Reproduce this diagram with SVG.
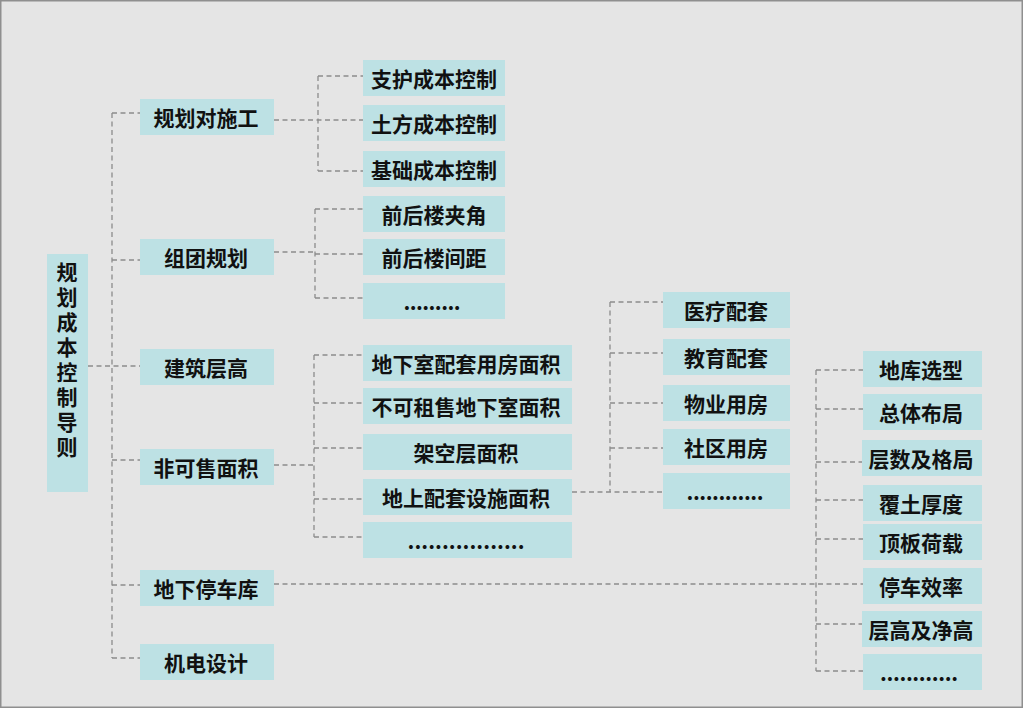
<svg xmlns="http://www.w3.org/2000/svg" width="1024" height="709" viewBox="0 0 1024 709">
<style>
.n{fill:#bde1e4}
.t{font-family:"Noto Sans CJK SC","Noto Sans",sans-serif;font-weight:bold;font-size:21px;fill:#111;text-anchor:middle;dominant-baseline:central}
.v{writing-mode:vertical-rl;letter-spacing:4px}
.c path{fill:none;stroke:#8c8c8c;stroke-width:1.3;stroke-dasharray:5 3.5}
</style>
<rect x="0" y="0" width="1024" height="709" fill="#ffffff"/>
<rect x="0.75" y="0.75" width="1021.5" height="706.5" fill="#e5e5e5" stroke="#8f8f8f" stroke-width="1.5"/>
<g class="c" id="connectors">
<path d="M112,113 V658"/>
<path d="M88,366 H140"/>
<path d="M112,113 H140 M112,260 H140 M112,460 H140 M112,585 H140 M112,658 H140"/>
<path d="M274,120 H363 M318,76 V171 M318,76 H363 M318,171 H363"/>
<path d="M274,252 H315 M315,209 V298 M315,209 H363 M315,254 H363 M315,298 H363"/>
<path d="M274,465 H314 M314,355 V537 M314,355 H363 M314,403 H363 M314,448 H363 M314,499 H363 M314,537 H363"/>
<path d="M572,492 H663 M610,302 V492 M610,302 H663 M610,353 H663 M610,403 H663 M610,448 H663"/>
<path d="M274,584 H863 M816,370 V671 M816,370 H863 M816,409 H863 M816,462 H863 M816,500 H863 M816,539 H863 M816,624 H863 M816,671 H863"/>
</g>
<g id="root"><rect class="n" x="47" y="254" width="41" height="238"/>
<text class="t v" x="67" y="362">规划成本控制导则</text></g>
<g id="n-gh"><rect class="n" x="140" y="99" width="134" height="36"/><text class="t" x="206" y="117">规划对施工</text></g>
<g id="n-zt"><rect class="n" x="140" y="239" width="134" height="36"/><text class="t" x="206" y="257">组团规划</text></g>
<g id="n-jz"><rect class="n" x="140" y="349" width="134" height="36"/><text class="t" x="206" y="367">建筑层高</text></g>
<g id="n-fk"><rect class="n" x="140" y="449" width="134" height="36"/><text class="t" x="206" y="467">非可售面积</text></g>
<g id="n-dx"><rect class="n" x="140" y="570" width="134" height="36"/><text class="t" x="206" y="588">地下停车库</text></g>
<g id="n-jd"><rect class="n" x="140" y="644" width="134" height="36"/><text class="t" x="206" y="662">机电设计</text></g>
<g id="n-zh"><rect class="n" x="363" y="60" width="142" height="36"/><text class="t" x="434" y="78">支护成本控制</text></g>
<g id="n-tf"><rect class="n" x="363" y="105" width="142" height="36"/><text class="t" x="434" y="123">土方成本控制</text></g>
<g id="n-jc"><rect class="n" x="363" y="151" width="142" height="36"/><text class="t" x="434" y="169">基础成本控制</text></g>
<g id="n-qj"><rect class="n" x="363" y="196" width="142" height="36"/><text class="t" x="434" y="214">前后楼夹角</text></g>
<g id="n-qd"><rect class="n" x="363" y="239" width="142" height="36"/><text class="t" x="434" y="257">前后楼间距</text></g>
<g id="n-e1"><rect class="n" x="363" y="283" width="142" height="36"/><text class="t" x="432" y="301" textLength="57" lengthAdjust="spacing">.........</text></g>
<g id="n-dp"><rect class="n" x="363" y="345" width="209" height="36"/><text class="t" x="466" y="363">地下室配套用房面积</text></g>
<g id="n-bk"><rect class="n" x="363" y="388" width="209" height="36"/><text class="t" x="466" y="406">不可租售地下室面积</text></g>
<g id="n-jk"><rect class="n" x="363" y="434" width="209" height="36"/><text class="t" x="466" y="452">架空层面积</text></g>
<g id="n-ds"><rect class="n" x="363" y="479" width="209" height="36"/><text class="t" x="466" y="497">地上配套设施面积</text></g>
<g id="n-e2"><rect class="n" x="363" y="522" width="209" height="36"/><text class="t" x="466" y="540" textLength="117" lengthAdjust="spacing">.................</text></g>
<g id="n-yl"><rect class="n" x="663" y="292" width="127" height="36"/><text class="t" x="726" y="310">医疗配套</text></g>
<g id="n-jy"><rect class="n" x="663" y="339" width="127" height="36"/><text class="t" x="726" y="357">教育配套</text></g>
<g id="n-wy"><rect class="n" x="663" y="385" width="127" height="36"/><text class="t" x="726" y="403">物业用房</text></g>
<g id="n-sq"><rect class="n" x="663" y="429" width="127" height="36"/><text class="t" x="726" y="447">社区用房</text></g>
<g id="n-e3"><rect class="n" x="663" y="473" width="127" height="36"/><text class="t" x="725" y="491" textLength="77" lengthAdjust="spacing">............</text></g>
<g id="n-dk"><rect class="n" x="863" y="351" width="119" height="36"/><text class="t" x="921" y="369">地库选型</text></g>
<g id="n-zt2"><rect class="n" x="863" y="394" width="119" height="36"/><text class="t" x="921" y="412">总体布局</text></g>
<g id="n-cs"><rect class="n" x="862" y="440" width="120" height="36"/><text class="t" x="921" y="458">层数及格局</text></g>
<g id="n-ft"><rect class="n" x="863" y="485" width="119" height="36"/><text class="t" x="921" y="503">覆土厚度</text></g>
<g id="n-db"><rect class="n" x="863" y="524" width="119" height="36"/><text class="t" x="921" y="542">顶板荷载</text></g>
<g id="n-tc"><rect class="n" x="863" y="568" width="119" height="36"/><text class="t" x="921" y="586">停车效率</text></g>
<g id="n-cg"><rect class="n" x="862" y="611" width="120" height="36"/><text class="t" x="921" y="629">层高及净高</text></g>
<g id="n-e4"><rect class="n" x="863" y="654" width="119" height="36"/><text class="t" x="919" y="672" textLength="78" lengthAdjust="spacing">............</text></g>
</svg>
